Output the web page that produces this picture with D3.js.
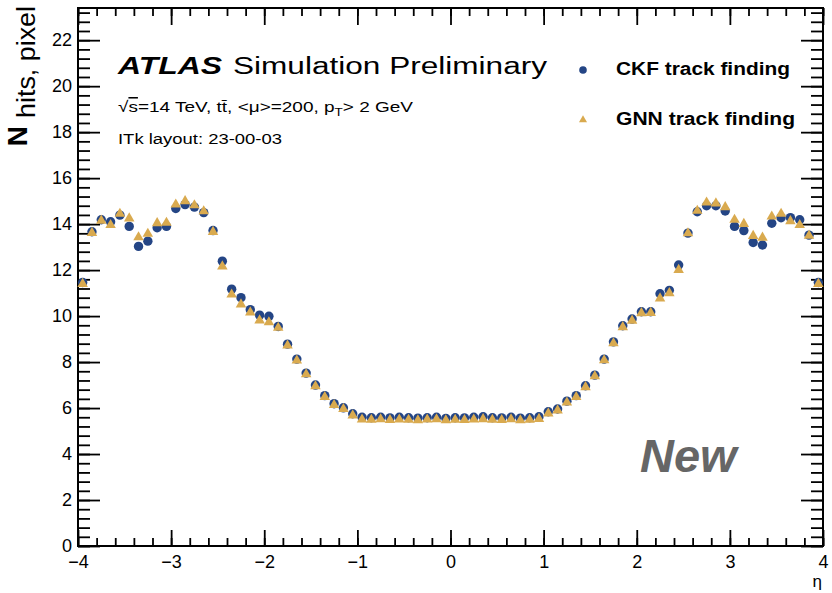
<!DOCTYPE html>
<html>
<head>
<meta charset="utf-8">
<script src="https://cdn.jsdelivr.net/npm/d3@7"></script>
<style>
  body { margin: 0; background: #fff; }
  text { font-family: "Liberation Sans", Arial, Helvetica, sans-serif; }
</style>
</head>
<body>
<div id="graph"></div>
<script>
// eta bin centres (0.1 wide bins from -4 to 4)
let etaBins = [
  -3.95, -3.85, -3.75, -3.65, -3.55, -3.45, -3.35, -3.25, -3.15, -3.05,
  -2.95, -2.85, -2.75, -2.65, -2.55, -2.45, -2.35, -2.25, -2.15, -2.05,
  -1.95, -1.85, -1.75, -1.65, -1.55, -1.45, -1.35, -1.25, -1.15, -1.05,
  -0.95, -0.85, -0.75, -0.65, -0.55, -0.45, -0.35, -0.25, -0.15, -0.05,
  0.05, 0.15, 0.25, 0.35, 0.45, 0.55, 0.65, 0.75, 0.85, 0.95,
  1.05, 1.15, 1.25, 1.35, 1.45, 1.55, 1.65, 1.75, 1.85, 1.95,
  2.05, 2.15, 2.25, 2.35, 2.45, 2.55, 2.65, 2.75, 2.85, 2.95,
  3.05, 3.15, 3.25, 3.35, 3.45, 3.55, 3.65, 3.75, 3.85, 3.95
];

// mean pixel hits, CKF track finding
let ckfHits = [
  11.46, 13.67, 14.19, 14.10, 14.39, 13.90, 13.03, 13.26, 13.84, 13.90,
  14.68, 14.85, 14.74, 14.50, 13.72, 12.39, 11.17, 10.80, 10.28, 10.04,
  9.99, 9.55, 8.78, 8.13, 7.52, 7.00, 6.54, 6.19, 6.01, 5.75,
  5.60, 5.58, 5.60, 5.57, 5.60, 5.58, 5.56, 5.58, 5.60, 5.55,
  5.58, 5.57, 5.60, 5.62, 5.58, 5.57, 5.60, 5.56, 5.58, 5.62,
  5.84, 5.96, 6.30, 6.54, 6.97, 7.43, 8.13, 8.88, 9.58, 9.87,
  10.19, 10.19, 10.97, 11.12, 12.22, 13.61, 14.54, 14.80, 14.80, 14.57,
  13.90, 13.72, 13.20, 13.09, 14.04, 14.28, 14.28, 14.19, 13.52, 11.46
];

// mean pixel hits, GNN track finding
let gnnHits = [
  11.40, 13.62, 14.15, 13.96, 14.45, 14.25, 13.43, 13.58, 14.04, 14.06,
  14.85, 15.00, 14.82, 14.56, 13.66, 12.16, 10.94, 10.51, 10.16, 9.81,
  9.73, 9.49, 8.72, 8.07, 7.47, 6.95, 6.48, 6.13, 5.96, 5.68,
  5.50, 5.49, 5.51, 5.48, 5.50, 5.49, 5.47, 5.50, 5.51, 5.47,
  5.49, 5.48, 5.50, 5.52, 5.49, 5.48, 5.51, 5.47, 5.49, 5.53,
  5.77, 5.90, 6.24, 6.48, 6.91, 7.38, 8.08, 8.82, 9.52, 9.80,
  10.13, 10.14, 10.77, 11.00, 12.01, 13.60, 14.58, 14.94, 14.90, 14.74,
  14.19, 14.01, 13.49, 13.41, 14.33, 14.45, 14.13, 13.96, 13.50, 11.40
];

let xTicks = [-4, -3, -2, -1, 0, 1, 2, 3, 4];
let yTicks = [0, 2, 4, 6, 8, 10, 12, 14, 16, 18, 20, 22];
let seriesNames = ["CKF track finding", "GNN track finding"];

const width = 832, height = 593;
const margin = {top: 8, right: 9, bottom: 47, left: 78};
const plotW = width - margin.left - margin.right;
const plotH = height - margin.top - margin.bottom;

const blue = "#244585";
const gold = "#d9aa4f";

let svg = d3.select("#graph")
    .append("svg")
    .attr("width", width)
    .attr("height", height);

let g = svg.append("g")
    .attr("transform", `translate(${margin.left}, ${margin.top})`);

function draw() {
    let x = d3.scaleLinear().domain([-4, 4]).range([0, plotW]);
    let y = d3.scaleLinear().domain([0, 23.4]).range([plotH, 0]);

    let xMinor = d3.range(-4, 4.001, 0.2);
    let yMinor = d3.range(0, 23.4, 0.4);

    function styleAxis(sel) {
        sel.select(".domain").remove();
        sel.selectAll("line").attr("stroke", "#000").attr("stroke-width", 1.8);
        sel.selectAll("text")
            .attr("fill", "#000")
            .style("font-size", "18px")
            .style("font-family", "'Liberation Sans', Arial, sans-serif");
    }

    // bottom
    g.append("g").attr("transform", `translate(0, ${plotH})`)
        .call(d3.axisBottom(x).tickValues(xMinor).tickSize(-8).tickFormat(""))
        .call(styleAxis);
    g.append("g").attr("transform", `translate(0, ${plotH})`)
        .call(d3.axisBottom(x).tickValues(xTicks).tickSize(-16).tickPadding(9))
        .call(styleAxis);
    // top
    g.append("g")
        .call(d3.axisTop(x).tickValues(xMinor).tickSize(-8).tickFormat(""))
        .call(styleAxis);
    g.append("g")
        .call(d3.axisTop(x).tickValues(xTicks).tickSize(-17).tickFormat(""))
        .call(styleAxis);
    // left
    g.append("g")
        .call(d3.axisLeft(y).tickValues(yMinor).tickSize(-12).tickFormat(""))
        .call(styleAxis);
    g.append("g")
        .call(d3.axisLeft(y).tickValues(yTicks).tickSize(-22).tickPadding(6))
        .call(styleAxis);
    // right
    g.append("g").attr("transform", `translate(${plotW}, 0)`)
        .call(d3.axisRight(y).tickValues(yMinor).tickSize(-12).tickFormat(""))
        .call(styleAxis);
    g.append("g").attr("transform", `translate(${plotW}, 0)`)
        .call(d3.axisRight(y).tickValues(yTicks).tickSize(-22).tickFormat(""))
        .call(styleAxis);

    g.append("rect")
        .attr("width", plotW)
        .attr("height", plotH)
        .attr("fill", "none")
        .attr("stroke", "#000")
        .attr("stroke-width", 2);

    let data = etaBins.map(function(e, i) { return {eta: e, ckf: ckfHits[i], gnn: gnnHits[i]}; });

    g.selectAll(".ckf").data(data).enter()
        .append("circle")
        .attr("class", "ckf")
        .attr("cx", function(d) { return x(d.eta); })
        .attr("cy", function(d) { return y(d.ckf); })
        .attr("r", 4.7)
        .attr("fill", blue);

    let tri = d3.symbol().type(d3.symbolTriangle).size(48);
    g.selectAll(".gnn").data(data).enter()
        .append("path")
        .attr("class", "gnn")
        .attr("d", tri)
        .attr("transform", function(d) { return `translate(${x(d.eta)}, ${y(d.gnn)})`; })
        .attr("fill", gold);

    // ATLAS label
    svg.append("text")
        .attr("x", 118).attr("y", 74)
        .style("font-size", "23px")
        .style("font-weight", "bold")
        .style("font-style", "italic")
        .attr("textLength", 104)
        .attr("lengthAdjust", "spacingAndGlyphs")
        .text("ATLAS");
    svg.append("text")
        .attr("x", 233).attr("y", 74)
        .style("font-size", "23px")
        .attr("textLength", 314)
        .attr("lengthAdjust", "spacingAndGlyphs")
        .text("Simulation Preliminary");

    let sub = svg.append("text")
        .attr("x", 118).attr("y", 112)
        .style("font-size", "15.5px")
        .attr("textLength", 295)
        .attr("lengthAdjust", "spacingAndGlyphs");
    sub.append("tspan").text("\u221A");
    sub.append("tspan").style("text-decoration", "overline").text("s");
    sub.append("tspan").text("=14 TeV, t");
    sub.append("tspan").text("t\u0304");
    sub.append("tspan").text(", <\u03BC>=200, p");
    sub.append("tspan").attr("dy", 4).style("font-size", "11px").text("T");
    sub.append("tspan").attr("dy", -4).text("> 2 GeV");

    svg.append("text")
        .attr("x", 118).attr("y", 144)
        .style("font-size", "15.5px")
        .attr("textLength", 164)
        .attr("lengthAdjust", "spacingAndGlyphs")
        .text("ITk layout: 23-00-03");

    // legend
    svg.append("circle")
        .attr("cx", 583).attr("cy", 70)
        .attr("r", 3.8)
        .attr("fill", blue);
    svg.append("path")
        .attr("d", d3.symbol().type(d3.symbolTriangle).size(28))
        .attr("transform", "translate(583, 120)")
        .attr("fill", gold);
    svg.selectAll(".legtext").data(seriesNames).enter()
        .append("text")
        .attr("class", "legtext")
        .attr("x", 616)
        .attr("y", function(d, i) { return 75 + i * 50; })
        .style("font-size", "18px")
        .style("font-weight", "bold")
        .attr("textLength", function(d, i) { return i === 0 ? 174 : 179; })
        .attr("lengthAdjust", "spacingAndGlyphs")
        .text(function(d) { return d; });

    svg.append("text")
        .attr("x", 640).attr("y", 472)
        .style("font-size", "47px")
        .style("font-weight", "bold")
        .style("font-style", "italic")
        .attr("fill", "#666")
        .text("New");

    // axis titles
    svg.append("text")
        .attr("x", 822).attr("y", 587)
        .style("font-size", "17px")
        .style("text-anchor", "end")
        .text("\u03B7");

    svg.append("text")
        .attr("transform", "translate(27, 126)rotate(-90)")
        .style("text-anchor", "end")
        .style("font-size", "28px")
        .style("font-weight", "bold")
        .text("N");
    svg.append("text")
        .attr("transform", "translate(35, 6)rotate(-90)")
        .style("text-anchor", "end")
        .style("font-size", "25px")
        .attr("textLength", 112)
        .attr("lengthAdjust", "spacingAndGlyphs")
        .text("hits, pixel");
}

draw();
</script>
</body>
</html>
